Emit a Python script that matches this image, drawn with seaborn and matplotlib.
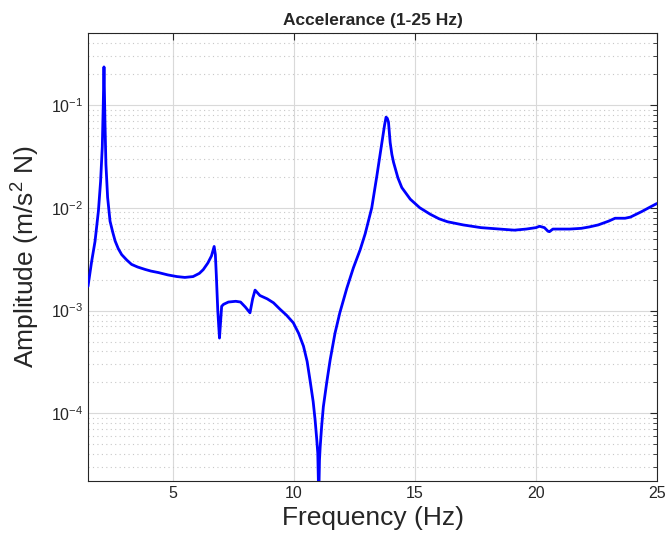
import numpy as np
import pandas as pd
import matplotlib
matplotlib.use("Agg")
import matplotlib.pyplot as plt
from matplotlib.ticker import LogLocator, NullFormatter
import seaborn as sns

# Measured accelerance magnitude (frequency in Hz, amplitude in m/s^2 N)
freq = [1.50, 1.65, 1.79, 1.93, 2.02, 2.09, 2.13, 2.16, 2.20, 2.24, 2.31, 2.41,
        2.52, 2.62, 2.75, 2.89, 3.10, 3.30, 3.55, 3.86, 4.10, 4.41, 4.80, 5.17,
        5.50, 5.84, 6.10, 6.26, 6.45, 6.60, 6.71, 6.76, 6.80, 6.86, 6.93, 6.98,
        7.02, 7.10, 7.30, 7.60, 7.80, 8.00, 8.19, 8.30, 8.40, 8.60, 8.90, 9.16,
        9.43, 9.70, 9.98, 10.20, 10.40, 10.55, 10.67, 10.80, 10.88, 10.95, 10.99,
        11.03, 11.06, 11.09, 11.15, 11.22, 11.36, 11.50, 11.70, 11.90, 12.19,
        12.46, 12.74, 12.95, 13.22, 13.43, 13.64, 13.75, 13.81, 13.86, 13.91,
        13.98, 14.05, 14.12, 14.30, 14.46, 14.81, 15.20, 15.63, 16.00, 16.35,
        17.00, 17.73, 18.50, 19.11, 19.60, 20.00, 20.15, 20.35, 20.50, 20.56,
        20.70, 20.91, 21.40, 21.87, 22.20, 22.57, 23.00, 23.27, 23.68, 23.90,
        24.38, 24.70, 25.00]
amp = [1.72e-3, 3.0e-3, 4.7e-3, 9.3e-3, 1.8e-2, 3.9e-2, 1.0e-1, 2.34e-1, 7.0e-2,
       2.65e-2, 1.26e-2, 7.4e-3, 5.8e-3, 4.75e-3, 4.0e-3, 3.5e-3, 3.1e-3, 2.81e-3,
       2.65e-3, 2.51e-3, 2.42e-3, 2.34e-3, 2.22e-3, 2.14e-3, 2.1e-3, 2.14e-3,
       2.3e-3, 2.5e-3, 2.9e-3, 3.4e-3, 4.2e-3, 3.5e-3, 2.2e-3, 1.0e-3, 5.4e-4,
       8.0e-4, 1.1e-3, 1.15e-3, 1.21e-3, 1.23e-3, 1.21e-3, 1.08e-3, 9.5e-4,
       1.3e-3, 1.58e-3, 1.4e-3, 1.3e-3, 1.19e-3, 1.03e-3, 9.0e-4, 7.6e-4, 6.0e-4,
       4.5e-4, 3.2e-4, 2.1e-4, 1.3e-4, 8.6e-5, 5.5e-5, 4.1e-5, 1.5e-5, 3.5e-5,
       4.75e-5, 7.5e-5, 1.16e-4, 2.0e-4, 3.3e-4, 6.0e-4, 9.5e-4, 1.65e-3, 2.6e-3,
       3.9e-3, 5.6e-3, 1.0e-2, 2.04e-2, 4.33e-2, 6.4e-2, 7.6e-2, 7.4e-2, 6.8e-2,
       4.3e-2, 3.3e-2, 2.76e-2, 1.95e-2, 1.57e-2, 1.21e-2, 1.0e-2, 8.65e-3,
       7.8e-3, 7.3e-3, 6.8e-3, 6.4e-3, 6.2e-3, 6.05e-3, 6.2e-3, 6.4e-3, 6.6e-3,
       6.4e-3, 5.9e-3, 5.85e-3, 6.2e-3, 6.2e-3, 6.2e-3, 6.3e-3, 6.5e-3, 6.8e-3,
       7.4e-3, 7.9e-3, 7.9e-3, 8.1e-3, 9.2e-3, 1.01e-2, 1.1e-2]

x_ticks = [5, 10, 15, 20, 25]
title_text = "Accelerance (1-25 Hz)"
x_label = "Frequency (Hz)"
y_label = r"Amplitude (m/s$^2$ N)"

sns.set_style("white")
plt.rcParams["font.family"] = ["Liberation Sans", "DejaVu Sans"]
plt.rcParams["mathtext.fontset"] = "custom"
plt.rcParams["mathtext.rm"] = "Liberation Sans"
plt.rcParams["mathtext.it"] = "Liberation Sans:italic"
plt.rcParams["mathtext.bf"] = "Liberation Sans:bold"

df = pd.DataFrame({"Frequency": freq, "Amplitude": amp})

fig = plt.figure(figsize=(6.65, 5.43), dpi=100)
ax = fig.add_axes([88 / 665, (543 - 481) / 543, (657 - 88) / 665, (481 - 33) / 543])

sns.lineplot(data=df, x="Frequency", y="Amplitude", color=(0, 0, 1),
             linewidth=2.0, ax=ax, zorder=3)

ax.set_yscale("log")
ax.set_xlim(1.5, 25)
ax.set_ylim(2.2e-5, 0.5)
ax.set_xticks(x_ticks)
ax.set_xticklabels([str(t) for t in x_ticks])
ax.yaxis.set_major_locator(LogLocator(base=10, numticks=10))
ax.yaxis.set_minor_locator(LogLocator(base=10, subs=np.arange(2, 10), numticks=20))
ax.yaxis.set_minor_formatter(NullFormatter())

# grid: solid light major lines, dotted minor lines on the log axis
ax.grid(True, which="major", color="#d9d9d9", linewidth=0.8, linestyle="-")
ax.grid(True, which="minor", axis="y", color="#c8c8c8", linewidth=0.8,
        linestyle=(0, (1, 3)))
ax.set_axisbelow(True)

ax.tick_params(axis="both", which="both", direction="in", top=True, right=True,
               colors="#262626", labelcolor="#262626")
ax.tick_params(axis="both", which="major", length=5, width=0.8, labelsize=11.5)
ax.tick_params(axis="y", which="minor", length=3, width=0.6)
for s in ax.spines.values():
    s.set_color("#262626")
    s.set_linewidth(0.8)

ax.set_title(title_text, fontsize=12.5, fontweight="bold", pad=6)
ax.set_xlabel(x_label, fontsize=19, color="#262626", labelpad=4)
ax.set_ylabel(y_label, fontsize=19, color="#262626", labelpad=6)

fig.savefig("out.png", dpi=100)
